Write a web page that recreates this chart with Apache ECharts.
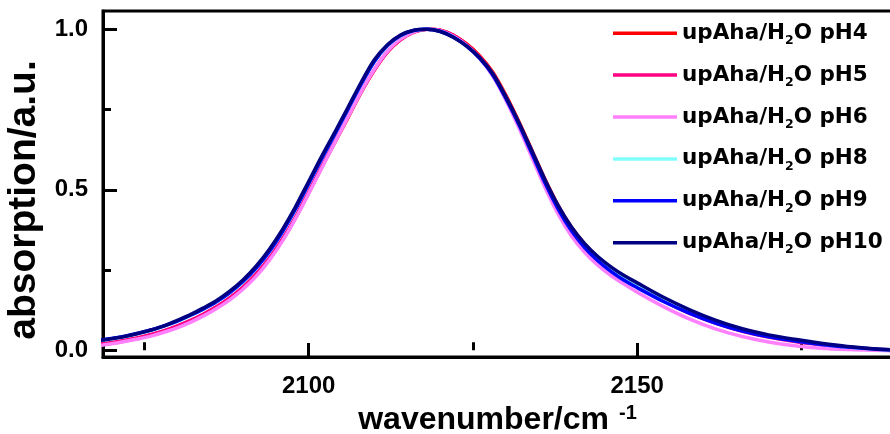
<!DOCTYPE html>
<html>
<head>
<meta charset="utf-8">
<script src="https://cdn.jsdelivr.net/npm/echarts@6/dist/echarts.min.js"></script>
<style>
html,body{margin:0;padding:0;background:#fff;}
#chart{width:890px;height:434px;}
</style>
</head>
<body>
<div id="chart"></div>
<script>
// ---- data ----
const wavenumbers = [2068, 2070, 2072, 2074, 2076, 2078, 2080, 2082, 2084, 2086, 2088, 2090, 2092, 2094, 2096, 2098, 2100, 2102, 2104, 2106, 2108, 2110, 2112, 2114, 2116, 2118, 2120, 2122, 2124, 2126, 2128, 2130, 2132, 2134, 2136, 2138, 2140, 2142, 2144, 2146, 2148, 2150, 2154, 2158, 2162, 2166, 2170, 2174, 2178, 2182, 2186, 2190];

const pH4  = [0.016, 0.022, 0.029, 0.037, 0.047, 0.059, 0.074, 0.091, 0.111, 0.134, 0.161, 0.194, 0.234, 0.283, 0.343, 0.412, 0.490, 0.570, 0.648, 0.725, 0.804, 0.873, 0.930, 0.968, 0.991, 1.000, 0.997, 0.982, 0.955, 0.918, 0.867, 0.795, 0.712, 0.622, 0.531, 0.450, 0.383, 0.331, 0.290, 0.257, 0.229, 0.204, 0.159, 0.120, 0.088, 0.062, 0.044, 0.030, 0.019, 0.010, 0.004, 0.000];
const pH5  = [0.018, 0.024, 0.031, 0.039, 0.049, 0.061, 0.076, 0.093, 0.113, 0.136, 0.164, 0.197, 0.238, 0.287, 0.347, 0.416, 0.494, 0.574, 0.652, 0.729, 0.806, 0.874, 0.930, 0.968, 0.991, 1.000, 0.997, 0.981, 0.953, 0.915, 0.863, 0.790, 0.706, 0.615, 0.523, 0.442, 0.375, 0.323, 0.283, 0.250, 0.222, 0.197, 0.154, 0.115, 0.084, 0.059, 0.041, 0.027, 0.017, 0.009, 0.003, 0.000];
const pH6  = [0.014, 0.020, 0.027, 0.035, 0.044, 0.056, 0.070, 0.087, 0.107, 0.130, 0.157, 0.190, 0.230, 0.280, 0.340, 0.410, 0.488, 0.568, 0.648, 0.727, 0.806, 0.875, 0.932, 0.970, 0.992, 1.000, 0.996, 0.979, 0.950, 0.910, 0.855, 0.780, 0.693, 0.600, 0.506, 0.423, 0.356, 0.305, 0.265, 0.233, 0.206, 0.181, 0.136, 0.097, 0.066, 0.043, 0.026, 0.014, 0.006, 0.002, 0.000, -0.002];
const pH8  = [0.030, 0.036, 0.043, 0.052, 0.062, 0.075, 0.090, 0.108, 0.128, 0.151, 0.179, 0.213, 0.255, 0.306, 0.368, 0.439, 0.518, 0.597, 0.673, 0.751, 0.829, 0.899, 0.949, 0.980, 0.996, 1.000, 0.994, 0.976, 0.949, 0.911, 0.860, 0.788, 0.706, 0.616, 0.525, 0.445, 0.378, 0.326, 0.286, 0.253, 0.225, 0.201, 0.157, 0.119, 0.087, 0.063, 0.044, 0.030, 0.019, 0.010, 0.004, 0.000];
const pH9  = [0.032, 0.037, 0.044, 0.053, 0.063, 0.076, 0.091, 0.109, 0.129, 0.152, 0.180, 0.214, 0.256, 0.307, 0.369, 0.440, 0.519, 0.598, 0.674, 0.752, 0.830, 0.900, 0.950, 0.981, 0.996, 1.000, 0.994, 0.976, 0.948, 0.910, 0.858, 0.785, 0.703, 0.612, 0.520, 0.439, 0.372, 0.320, 0.279, 0.246, 0.218, 0.195, 0.152, 0.115, 0.084, 0.060, 0.042, 0.029, 0.018, 0.010, 0.004, 0.000];
const pH10 = [0.030, 0.036, 0.043, 0.052, 0.063, 0.076, 0.093, 0.111, 0.132, 0.155, 0.184, 0.219, 0.262, 0.314, 0.376, 0.447, 0.526, 0.605, 0.680, 0.757, 0.835, 0.905, 0.952, 0.982, 0.997, 1.000, 0.993, 0.975, 0.948, 0.912, 0.862, 0.790, 0.709, 0.620, 0.530, 0.450, 0.384, 0.332, 0.292, 0.260, 0.233, 0.210, 0.165, 0.126, 0.093, 0.067, 0.048, 0.034, 0.022, 0.012, 0.005, 0.000];

const seriesNames = ['upAha/H2O pH4', 'upAha/H2O pH5', 'upAha/H2O pH6', 'upAha/H2O pH8', 'upAha/H2O pH9', 'upAha/H2O pH10'];
const seriesValues = [pH4, pH5, pH6, pH8, pH9, pH10];
const seriesColors = ['#FF0000', '#FF0080', '#FF80FF', '#80FFFF', '#0000FF', '#000080'];

const xMajorTicks = [2100, 2150];
const xMinorTicks = [2075, 2125, 2175];
const yMajorTicks = [0.0, 0.5, 1.0];
const yMinorTicks = [0.25, 0.75];

const xTitle = 'wavenumber/cm';
const xTitleSup = '-1';
const yTitle = 'absorption/a.u.';

// ---- chart ----
const FONT = '"Liberation Sans", Arial, Helvetica, sans-serif';
const LFONT = '"DejaVu Sans", "Liberation Sans", Arial, sans-serif';
const chart = echarts.init(document.getElementById('chart'), null, {renderer: 'canvas'});

const xMin = 2068.7, xMax = 2190, yMin = -0.021, yMax = 1.057;

const series = seriesNames.map((name, i) => ({
  name: name,
  type: 'line',
  data: wavenumbers.map((w, k) => [w, seriesValues[i][k]]),
  showSymbol: false,
  smooth: 0.3,
  lineStyle: {width: 3.5, color: seriesColors[i]},
  itemStyle: {color: seriesColors[i]},
  z: 2 + i
}));

function legendFmt(name) {
  const parts = name.split('H2O');
  return '{t|' + parts[0] + 'H}{s|2}{t|O' + parts[1] + '}';
}

chart.setOption({
  animation: false,
  backgroundColor: '#ffffff',
  grid: {
    left: 103, right: -10, top: 11, bottom: 77,
    containLabel: false,
    outerBoundsMode: 'none',
    show: true, borderColor: '#000', borderWidth: 3, backgroundColor: 'transparent'
  },
  legend: {
    orient: 'vertical',
    left: 613, top: 22.2,
    padding: 0,
    itemGap: 16.9,
    itemWidth: 64, itemHeight: 3.5,
    icon: 'rect',
    data: seriesNames,
    formatter: legendFmt,
    textStyle: {
      fontFamily: LFONT, fontWeight: 'bold', fontSize: 21.5, color: '#000',
      rich: {
        t: {fontFamily: LFONT, fontWeight: 'bold', fontSize: 21.5, color: '#000', lineHeight: 28},
        s: {fontFamily: LFONT, fontWeight: 'bold', fontSize: 12.5, color: '#000', lineHeight: 2, verticalAlign: 'bottom'}
      }
    }
  },
  xAxis: [
    {
      type: 'value', min: xMin, max: xMax,
      name: '{t|' + xTitle + '}{sup|' + xTitleSup + '}',
      nameLocation: 'middle', nameGap: 46,
      nameTextStyle: {
        fontFamily: FONT, fontWeight: 'bold', fontSize: 32, color: '#000',
        padding: [0, 0, 0, -8],
        rich: {
          t: {fontFamily: FONT, fontWeight: 'bold', fontSize: 32, color: '#000', lineHeight: 34},
          sup: {fontFamily: FONT, fontWeight: 'bold', fontSize: 20, color: '#000', lineHeight: 12, verticalAlign: 'top', padding: [0, 0, 0, 10]}
        }
      },
      axisLine: {show: true, onZero: false, lineStyle: {color: '#000', width: 3}},
      axisTick: {show: true, inside: true, length: 14, lineStyle: {color: '#000', width: 3}, customValues: xMajorTicks},
      axisLabel: {show: true, margin: 17, fontFamily: FONT, fontWeight: 'bold', fontSize: 24, color: '#000',
        customValues: xMajorTicks, formatter: v => String(Math.round(v))},
      splitLine: {show: false}
    },
    {
      type: 'value', min: xMin, max: xMax, position: 'bottom',
      axisLine: {show: false},
      axisTick: {show: true, inside: true, length: 8, lineStyle: {color: '#000', width: 3}, customValues: xMinorTicks},
      axisLabel: {show: false},
      splitLine: {show: false}
    }
  ],
  yAxis: [
    {
      type: 'value', min: yMin, max: yMax,
      name: yTitle,
      nameLocation: 'middle', nameGap: 57,
      nameTextStyle: {fontFamily: FONT, fontWeight: 'bold', fontSize: 39, color: '#000', padding: [0, 32, 0, 0]},
      axisLine: {show: true, onZero: false, lineStyle: {color: '#000', width: 3}},
      axisTick: {show: true, inside: true, length: 14, lineStyle: {color: '#000', width: 3}, customValues: yMajorTicks},
      axisLabel: {show: true, margin: 15, fontFamily: FONT, fontWeight: 'bold', fontSize: 24, color: '#000',
        customValues: yMajorTicks, formatter: v => Number(v).toFixed(1)},
      splitLine: {show: false}
    },
    {
      type: 'value', min: yMin, max: yMax, position: 'left',
      axisLine: {show: false},
      axisTick: {show: true, inside: true, length: 8, lineStyle: {color: '#000', width: 3}, customValues: yMinorTicks},
      axisLabel: {show: false},
      splitLine: {show: false}
    }
  ],
  series: series
});
</script>
</body>
</html>
